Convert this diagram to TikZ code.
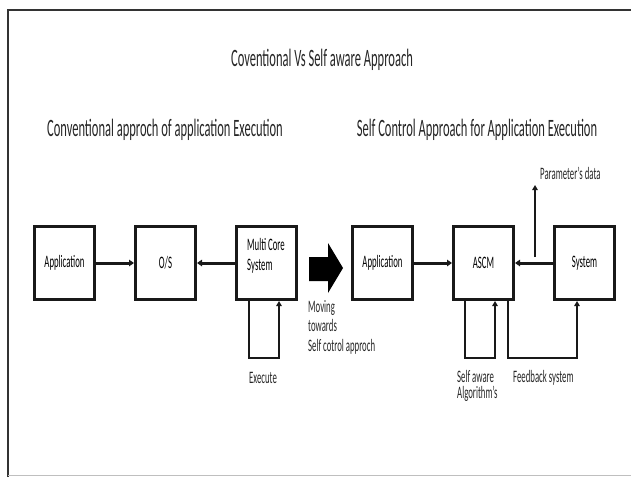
\documentclass[tikz,border=0pt]{standalone}
\usepackage{fontspec}
\setmainfont[FakeStretch=0.5]{Carlito}
\usetikzlibrary{arrows.meta,calc}
\begin{document}
\begin{tikzpicture}[x=1pt,y=-1pt,
  box/.style={draw=black!90,line width=3pt,minimum width=60pt,minimum height=73pt,inner sep=0pt,font=\fontsize{17.5}{20}\selectfont},
  bigtxt/.style={font=\fontsize{25}{28}\selectfont,text=black!85,inner sep=0pt},
  lbl/.style={font=\fontsize{17.5}{20}\selectfont,text=black!85,inner sep=0pt,align=left,anchor=west},
  conn/.style={draw=black!90,line width=3pt,-{Triangle[length=5pt,width=6.5pt]}},
  loop/.style={draw=black!90,line width=2.4pt,-{Triangle[length=5pt,width=5.5pt]}}]
\path[use as bounding box] (0,0) rectangle (631,477);
% frame
\draw[black!80,line width=2.5pt] (8,477) -- (8,10) -- (631,10);
\draw[black!25,line width=1pt] (8,475) -- (631,475);
% titles
\node[bigtxt] (title) at (322,60) {Coventional Vs Self aware Approach};
\node[bigtxt] (subl) at (165,130) {Conventional approch of application Execution};
\node[bigtxt] (subr) at (477,130) {Self Control Approach for Application Execution};
% left boxes
\node[box] (app1) at (64.5,263) {Application};
\node[box] (os) at (165.5,263) {O/S};
\node[box,align=left] (multi) at (266,263) {Multi Core\\System\\[-2pt]};
% right boxes
\node[box] (app2) at (382.5,263) {Application};
\node[box] (ascm) at (483.5,263) {ASCM};
\node[box] (sys) at (584.5,263) {System};
% connectors
\draw[conn] (app1.east) -- (os.west);
\draw[conn] (multi.west) -- (os.east);
\draw[conn] (app2.east) -- (ascm.west);
\draw[conn] (sys.west) -- (ascm.east);
% parameter's data
\coordinate (pdb) at (535,257);
\coordinate (pdt) at (535,185);
\draw[draw=black!90,line width=2.2pt,-{Triangle[length=5pt,width=5.5pt]}] (pdb) -- (pdt);
\node[lbl] (pdl) at (540,173) {Parameter's data};
% big arrow
\fill[black] (309,257) -- (328,257) -- (328,243) -- (343,268) -- (328,293) -- (328,281) -- (309,281) -- cycle;
\node[lbl,align=left,anchor=north west,font=\fontsize{17.5}{19.5}\selectfont] (mov) at (308,300) {Moving\\towards\\Self cotrol approch};
% execute loop
\draw[loop] ([xshift=-17pt]multi.south) -- ++(0,57) -| ([xshift=13pt]multi.south);
\node[lbl] (exe) at (249,378) {Execute};
% self aware loop
\draw[loop] ([xshift=-18.5pt]ascm.south) -- ++(0,57) -| ([xshift=11.5pt]ascm.south);
\node[lbl,anchor=north west,font=\fontsize{17.5}{16.5}\selectfont] (sal) at (457,370) {Self aware\\Algorithm's};
% feedback loop
\draw[loop] ([xshift=24.5pt]ascm.south) -- ++(0,57) -| ([xshift=-7.5pt]sys.south);
\node[lbl] (fbl) at (513,378) {Feedback system};
\end{tikzpicture}
\end{document}
